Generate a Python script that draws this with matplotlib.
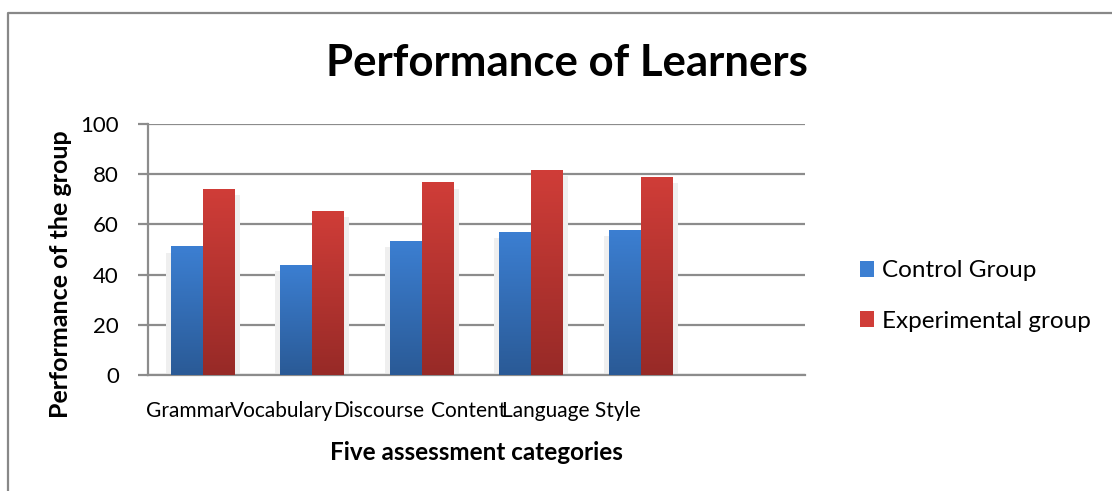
import numpy as np
import matplotlib
matplotlib.use("Agg")
import matplotlib.pyplot as plt
from matplotlib.patches import Patch
from matplotlib.lines import Line2D
from matplotlib.colors import LinearSegmentedColormap

# ---- data ----
categories = ["Grammar", "Vocabulary", "Discourse", "Content", "Language Style", ""]
control = [51.2, 43.9, 53.4, 57.0, 57.8, np.nan]
experimental = [74.2, 65.4, 76.7, 81.7, 79.0, np.nan]
series_names = ["Control Group", "Experimental group"]
yticks = [0, 20, 40, 60, 80, 100]
# label centre offsets (Excel squeezed the labels to the left)
label_pos = [-0.125, 0.72, 1.61, 2.43, 3.37]

plt.rcParams['font.family'] = ['Lato', 'DejaVu Sans']

W, H = 1112, 491
fig = plt.figure(figsize=(W / 100, H / 100), dpi=100)
ax = fig.add_axes([148 / W, 1 - 375 / H, 657 / W, 251 / H])

x = np.arange(len(categories))
bw = 0.29
blue_top, blue_bot = "#3c7fd2", "#2a5a96"
red_top, red_bot = "#d03d38", "#972a27"

# soft shadow
ax.bar(x - bw / 2 - 0.03, np.array(control) - 2.5, bw + 0.04, color="#efefef", zorder=1)
ax.bar(x + bw / 2 + 0.03, np.array(experimental) - 2.5, bw + 0.04, color="#efefef", zorder=1)

b1 = ax.bar(x - bw / 2, control, bw, color=blue_top, zorder=2, label=series_names[0])
b2 = ax.bar(x + bw / 2, experimental, bw, color=red_top, zorder=2, label=series_names[1])

grad = np.linspace(0, 1, 256).reshape(-1, 1)
for bars, top, bot in [(b1, blue_top, blue_bot), (b2, red_top, red_bot)]:
    cmap = LinearSegmentedColormap.from_list("g", [bot, top])
    for r in bars:
        h = r.get_height()
        if not np.isfinite(h):
            continue
        x0 = r.get_x()
        im = ax.imshow(grad, extent=[x0, x0 + r.get_width(), 0, h], origin="lower",
                       aspect="auto", cmap=cmap, zorder=3)
        im.set_clip_path(r)

ax.set_xlim(-0.5, len(categories) - 0.5)
ax.set_ylim(0, 100)
ax.set_yticks(yticks)
ax.yaxis.grid(True, color="#8c8c8c", lw=1.6)
ax.set_axisbelow(True)
for s in ["top", "right"]:
    ax.spines[s].set_visible(False)
ax.spines["left"].set_color("#8c8c8c")
ax.spines["left"].set_linewidth(1.6)
ax.spines["bottom"].set_color("#8c8c8c")
ax.spines["bottom"].set_linewidth(1.6)
ax.tick_params(axis="y", length=7, width=1.6, color="#8c8c8c", labelsize=16, pad=14)
ax.set_xticks(label_pos)
ax.set_xticklabels(categories[:5])
ax.tick_params(axis="x", length=0, labelsize=15, pad=19)

ax.set_xlabel("Five assessment categories", fontsize=17.5, fontweight="bold", labelpad=14)
ax.set_ylabel("Performance of the group", fontsize=18, fontweight="bold")
ax.yaxis.set_label_coords(-0.115, 0.40)

fig.text(567 / W, 1 - 63 / H, "Performance of Learners", ha="center", va="center",
         fontsize=31.5, fontweight="bold")

handles = [Patch(facecolor=blue_top), Patch(facecolor=red_top)]
fig.legend(handles, series_names, loc="center left", bbox_to_anchor=(838 / W, 1 - 296 / H),
           frameon=False, fontsize=17.5, handlelength=0.6, handleheight=0.6,
           handletextpad=0.3, labelspacing=1.2)

# outer chart border
fig.add_artist(Line2D([8 / W, 8 / W, 1.0], [0.0, 1 - 12.5 / H, 1 - 12.5 / H],
                      transform=fig.transFigure, color="#888888", lw=1.6))

fig.savefig("out.png", dpi=100)
